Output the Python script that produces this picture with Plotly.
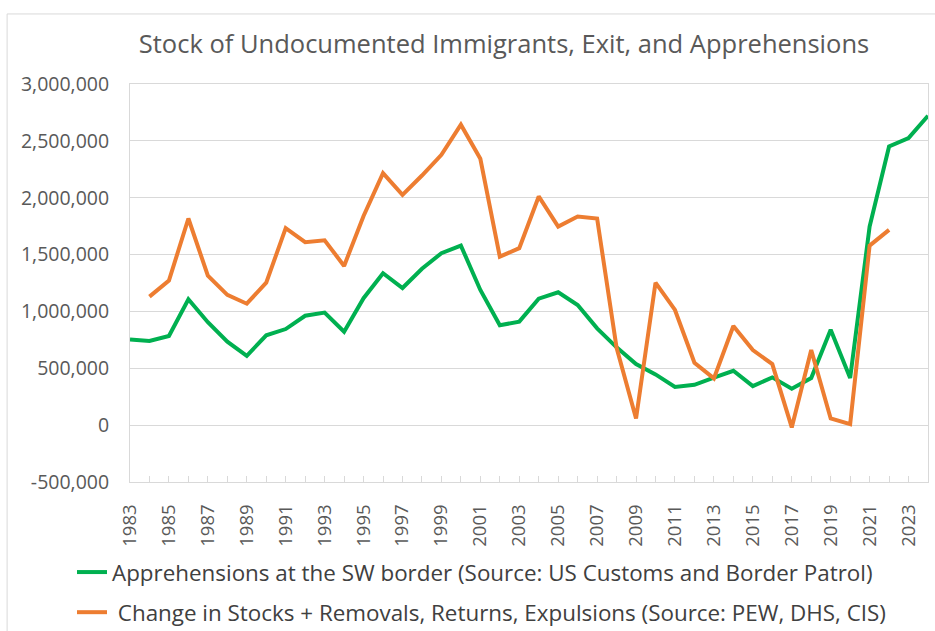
import plotly.graph_objects as go

# Fiscal years on the category axis
years = list(range(1983, 2025))

# Southwest border apprehensions (US Customs and Border Patrol)
apprehensions = [
    754000, 740000, 784000, 1107000, 905000, 734000, 610000, 790000,
    845000, 962000, 990000, 822000, 1116000, 1336000, 1206000, 1375000,
    1512000, 1579000, 1189000, 878000, 910000, 1112000, 1168000, 1057000,
    851000, 684000, 537000, 446000, 335000, 355000, 417000, 478000,
    343000, 420000, 320000, 414000, 839000, 414000, 1746000, 2451000,
    2524000, 2721000,
]

# Change in stocks + removals, returns, expulsions (PEW, DHS, CIS)
exits = [
    None, 1130000, 1271000, 1817000, 1315000, 1145000, 1068000, 1253000,
    1732000, 1609000, 1626000, 1400000, 1840000, 2216000, 2025000, 2195000,
    2377000, 2642000, 2342000, 1482000, 1556000, 2011000, 1746000, 1834000,
    1817000, 680000, 59000, 1253000, 1013000, 549000, 411000, 872000,
    660000, 537000, -20000, 660000, 59000, 9000, 1579000, 1717000,
    None, None,
]

label_years = [str(y) for y in range(1983, 2024, 2)]
y_ticks = [-500000, 0, 500000, 1000000, 1500000, 2000000, 2500000, 3000000]
y_labels = [f"{v:,}" for v in y_ticks]

GREEN = "#00b050"
ORANGE = "#ed7d31"
GRID = "#d9d9d9"
TEXT = "#595959"
FONT = "Open Sans"

fig = go.Figure()
fig.add_trace(go.Scatter(
    x=years, y=apprehensions, mode="lines",
    name="Apprehensions at the SW border (Source: US Customs and Border Patrol)",
    line=dict(color=GREEN, width=4), legendgroup="cbp",
))
fig.add_trace(go.Scatter(
    x=years, y=exits, mode="lines",
    name="\u00a0Change in Stocks + Removals, Returns, Expulsions (Source: PEW, DHS, CIS)",
    line=dict(color=ORANGE, width=4), connectgaps=False, legendgroup="exit",
))

# light frame around the whole chart area
fig.add_shape(
    type="rect", xref="paper", yref="paper",
    x0=-0.154, x1=1.03, y0=-0.45, y1=1.176,
    line=dict(color=GRID, width=1), fillcolor="rgba(0,0,0,0)", layer="below",
)

fig.update_layout(
    width=935, height=631,
    margin=dict(l=130, r=7, t=84, b=149, autoexpand=False),
    paper_bgcolor="white", plot_bgcolor="white",
    showlegend=True,
    title=dict(
        text="Stock of Undocumented Immigrants, Exit, and Apprehensions",
        font=dict(family=FONT, size=25.5, color=TEXT),
        x=504 / 935, xanchor="center", y=1 - 44 / 631, yanchor="middle",
    ),
    legend=dict(
        orientation="v", traceorder="grouped", tracegroupgap=8,
        x=(72 - 130) / 798, xanchor="left", y=(482 - 551) / 398, yanchor="top",
        font=dict(family=FONT, size=22.4, color="#404040"),
        bgcolor="rgba(0,0,0,0)",
    ),
    xaxis=dict(
        type="linear", range=[1983, 2024],
        tickvals=[int(y) for y in label_years], ticktext=label_years,
        tickangle=-90, tickfont=dict(family=FONT, size=18.5, color=TEXT),
        ticks="inside", ticklen=6, tickcolor=GRID, tickwidth=1,
        minor=dict(dtick=1, tick0=1983, ticks="inside", ticklen=6,
                   tickcolor=GRID, tickwidth=1, showgrid=False),
        showgrid=False, zeroline=False,
        showline=True, linecolor=GRID, linewidth=1, mirror=True,
        ticklabelstandoff=14,
    ),
    yaxis=dict(
        range=[-500000, 3000000], tickvals=y_ticks, ticktext=y_labels,
        tickfont=dict(family=FONT, size=19.5, color=TEXT),
        showgrid=True, gridcolor=GRID, gridwidth=1, zeroline=False,
        showline=True, linecolor=GRID, linewidth=1, mirror=True,
        ticks="", ticklabelstandoff=16,
    ),
)

fig.write_html("out.html")
